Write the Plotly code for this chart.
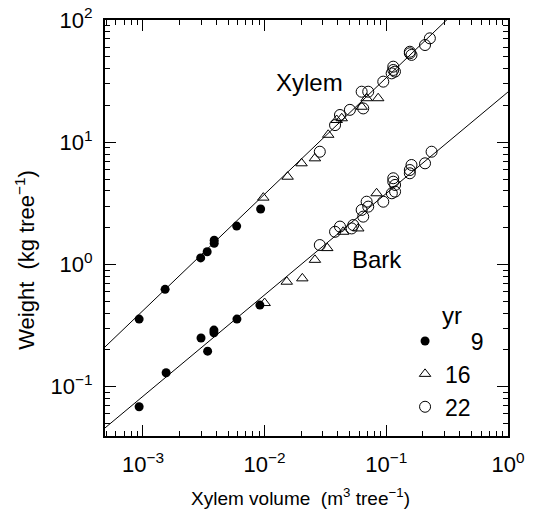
import numpy as np
import plotly.graph_objects as go

# ---- data ----
# Year 9 (filled circles)
x9_xylem = [0.00093, 0.00152, 0.00298, 0.00337, 0.00385, 0.00385, 0.00589, 0.00927]
y9_xylem = [0.357, 0.625, 1.13, 1.27, 1.58, 1.49, 2.06, 2.84]
x9_bark = [0.00093, 0.00155, 0.00300, 0.00340, 0.00383, 0.00383, 0.00592, 0.00914]
y9_bark = [0.0685, 0.130, 0.250, 0.195, 0.290, 0.276, 0.357, 0.465]

# Year 16 (open triangles)
x16_xylem = [0.00975, 0.01545, 0.0201, 0.0259, 0.0333, 0.0391, 0.0430, 0.0627, 0.0689, 0.0857]
y16_xylem = [3.52, 5.22, 6.72, 7.38, 11.5, 15.2, 15.7, 19.5, 22.9, 22.9]
x16_bark = [0.0100, 0.0152, 0.0204, 0.0259, 0.0327, 0.0442, 0.0588, 0.0832]
y16_bark = [0.483, 0.722, 0.769, 1.09, 1.36, 1.85, 1.97, 3.82]

# Year 22 (open circles)
x22_xylem = [0.0284, 0.0379, 0.0416, 0.0502, 0.0646, 0.0627, 0.0710, 0.0944, 0.114,
             0.114, 0.1106, 0.1178, 0.156, 0.156, 0.161, 0.208, 0.228]
y22_xylem = [8.36, 13.8, 16.7, 18.4, 18.9, 25.9, 25.9, 31.3, 41.5,
             39.0, 36.6, 37.8, 53.4, 55.0, 51.8, 62.4, 70.8]
x22_bark = [0.2355, 0.208, 0.161, 0.156, 0.156, 0.114, 0.114, 0.118, 0.118, 0.111,
            0.0944, 0.0689, 0.0710, 0.0627, 0.0646, 0.0535, 0.0519, 0.0379, 0.0416, 0.0284]
y22_bark = [8.36, 6.72, 6.51, 5.92, 5.57, 5.07, 4.75, 4.47, 3.94, 3.82,
            3.26, 3.26, 2.97, 2.79, 2.46, 2.10, 1.97, 1.85, 2.04, 1.44]

# Fitted allometric lines: log10(W) = a + b*log10(V)
xylem_fit = (2.481, 0.953)
bark_fit = (1.411, 0.830)

legend_names = ["\u2007\u20079", "16", "22"]
y_tickvals = [0.1, 1, 10, 100]
y_ticktext = ["10<sup>\u22121</sup>", "10<sup>0</sup>", "10<sup>1</sup>", "10<sup>2</sup>"]
x_tickvals = [0.001, 0.01, 0.1, 1]
x_ticktext = ["10<sup>\u22123</sup>", "10<sup>\u22122</sup>", "10<sup>\u22121</sup>", "10<sup>0</sup>"]

X_RANGE = [-3.312, 0.0]
Y_RANGE = [-1.404, 2.0]
FONT = "Liberation Sans, Arial, Helvetica, sans-serif"

fig = go.Figure()

# regression lines
lx = np.array(X_RANGE)
for a, b in (xylem_fit, bark_fit):
    fig.add_trace(go.Scatter(x=10 ** lx, y=10 ** (a + b * lx), mode="lines",
                             line=dict(color="black", width=1), showlegend=False,
                             hoverinfo="skip"))

# markers
fig.add_trace(go.Scatter(x=x9_xylem + x9_bark, y=y9_xylem + y9_bark, mode="markers",
                         name=legend_names[0],
                         marker=dict(symbol="circle", size=9, color="black",
                                     line=dict(width=0))))
fig.add_trace(go.Scatter(x=x16_xylem + x16_bark, y=y16_xylem + y16_bark, mode="markers",
                         name=legend_names[1],
                         marker=dict(symbol="triangle-up-open", size=10, color="black",
                                     line=dict(width=1))))
fig.add_trace(go.Scatter(x=x22_xylem + x22_bark, y=y22_xylem + y22_bark, mode="markers",
                         name=legend_names[2],
                         marker=dict(symbol="circle-open", size=11, color="black",
                                     line=dict(width=1))))

axis_common = dict(
    type="log", showline=True, linecolor="black", linewidth=2, mirror="allticks",
    ticks="inside", ticklen=11, tickwidth=1.2, tickcolor="black",
    showgrid=False, zeroline=False, automargin=False, ticklabeloverflow="allow",
    tickfont=dict(family=FONT, size=22, color="black"),
    minor=dict(ticks="inside", ticklen=5, tickwidth=1, tickcolor="black",
               dtick="D1", showgrid=False),
)

fig.update_xaxes(**axis_common, range=X_RANGE, tickmode="array",
                 tickvals=x_tickvals, ticktext=x_ticktext, ticklabelstandoff=8)
fig.update_yaxes(**axis_common, range=Y_RANGE, tickmode="array",
                 tickvals=y_tickvals, ticktext=y_ticktext, ticklabelstandoff=6)

# axis titles
fig.add_annotation(x=0.484, y=-0.147, xref="paper", yref="paper",
                   text="Xylem volume  (m<sup>3</sup> tree<sup>\u22121</sup>)",
                   showarrow=False, xanchor="center", yanchor="middle",
                   font=dict(family=FONT, size=19, color="black"))
fig.add_annotation(x=-0.199, y=0.423, xref="paper", yref="paper",
                   text="Weight  (kg tree<sup>\u22121</sup>)", textangle=-90,
                   showarrow=False, xanchor="center", yanchor="middle",
                   font=dict(family=FONT, size=22, color="black"))

fig.add_annotation(x=-1.628, y=1.489, xref="x", yref="y", text="Xylem",
                   showarrow=False, font=dict(family=FONT, size=24, color="black"))
fig.add_annotation(x=-1.073, y=0.044, xref="x", yref="y", text="Bark",
                   showarrow=False, font=dict(family=FONT, size=24, color="black"))
fig.add_annotation(x=0.89, y=0.29, xref="paper", yref="paper", text="yr",
                   xanchor="right", yanchor="middle", showarrow=False,
                   font=dict(family=FONT, size=24, color="black"))

fig.update_layout(
    width=537, height=515,
    margin=dict(l=105, r=29, t=20, b=79, autoexpand=False),
    paper_bgcolor="white", plot_bgcolor="white",
    font=dict(family=FONT, color="black"),
    showlegend=True,
    hovermode=False,
    legend=dict(x=0.953, y=0.28, xanchor="right", yanchor="top",
                bgcolor="rgba(0,0,0,0)", borderwidth=0,
                font=dict(family=FONT, size=23, color="black"),
                itemwidth=30, tracegroupgap=0),
)

# remove the browser's default 8px page margin so the figure fills the window
fig.write_html("out.html",
               config={"displayModeBar": False},
               post_script="document.body.style.margin='0';"
                           "document.body.style.overflow='hidden';")
